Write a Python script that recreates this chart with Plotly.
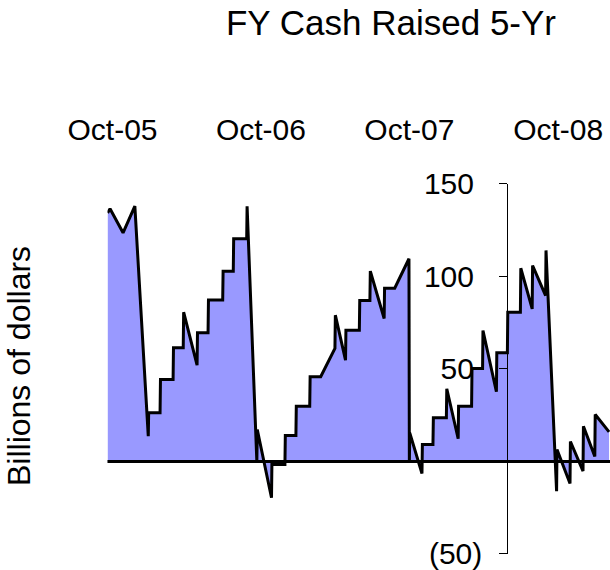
import plotly.graph_objects as go

# Data
dates = [
    "2005-09-19", "2005-09-25", "2005-10-27", "2005-11-25", "2005-12-28", "2005-12-29",
    "2006-01-26", "2006-01-27", "2006-02-27", "2006-02-28", "2006-03-24", "2006-03-25",
    "2006-04-27", "2006-04-28", "2006-05-24", "2006-05-25", "2006-06-29", "2006-06-30",
    "2006-07-25", "2006-07-26", "2006-08-27", "2006-08-28", "2006-09-21", "2006-09-22",
    "2006-10-27", "2006-10-28", "2006-11-29", "2006-11-30", "2006-12-26", "2006-12-27",
    "2007-01-29", "2007-01-30", "2007-02-25", "2007-04-01", "2007-04-02", "2007-04-27",
    "2007-04-28", "2007-05-31", "2007-06-01", "2007-06-26", "2007-06-27", "2007-07-31",
    "2007-08-01", "2007-08-26", "2007-09-30", "2007-10-01", "2007-10-02", "2007-11-01",
    "2007-11-02", "2007-11-28", "2007-11-29", "2007-12-31", "2008-01-01", "2008-01-29",
    "2008-01-30", "2008-03-02", "2008-03-03", "2008-03-29", "2008-03-30", "2008-05-02",
    "2008-05-03", "2008-05-29", "2008-05-30", "2008-06-30", "2008-07-01", "2008-07-29",
    "2008-07-30", "2008-08-31", "2008-09-01", "2008-09-27", "2008-09-28", "2008-10-30",
    "2008-10-31", "2008-12-01", "2008-12-02", "2008-12-30", "2008-12-31", "2009-02-03",
]
cash_raised = [
    134.4, 136.6, 123.6, 138.0, 13.7, 26.3,
    26.3, 44.3, 44.3, 61.5, 61.5, 80.7,
    52.1, 69.6, 69.6, 87.3, 87.3, 102.9,
    102.9, 120.4, 120.4, 138.0, 0.0, 17.3,
    -19.6, -1.6, -1.6, 14.1, 14.1, 29.9,
    29.9, 45.8, 45.8, 61.1, 79.1, 54.8,
    71.0, 71.0, 87.0, 87.0, 102.9, 77.3,
    93.7, 93.7, 109.6, 0.0, 15.5, -6.5,
    9.2, 9.2, 23.6, 23.6, 39.3, 12.3,
    29.9, 29.9, 50.3, 50.3, 70.8, 37.7,
    58.8, 58.8, 80.7, 80.7, 104.5, 82.5,
    105.9, 89.7, 114.1, -16.1, 6.5, -11.9,
    10.8, -5.2, 19.1, 2.7, 25.4, 16.0,
]

x_tick_dates = ["2005-10-01", "2006-10-01", "2007-10-01", "2008-10-01"]
y_tick_vals = [150, 100, 50, -50]
# accounting-style labels: positives padded where ")" sits on negatives
y_tick_text = ["150\u2008", "100\u2008", "50\u2008", "(50)"]

FONT = "Liberation Sans, Arial, sans-serif"

fig = go.Figure()
fig.add_trace(go.Scatter(
    x=dates, y=cash_raised, mode="lines",
    line=dict(color="black", width=3),
    fill="tozeroy", fillcolor="#9999FF",
    hoverinfo="skip",
))

fig.update_layout(
    width=610, height=570,
    margin=dict(l=0, r=0, t=0, b=0, autoexpand=False),
    paper_bgcolor="white", plot_bgcolor="white",
    showlegend=False,
    font=dict(family=FONT, color="black"),
    title=dict(
        text="FY Cash Raised 5-Yr",
        x=391 / 610, xanchor="center", xref="paper",
        y=0.981, yanchor="top", yref="container",
        font=dict(size=35, family=FONT, color="black"),
        automargin=False,
    ),
    xaxis=dict(
        domain=[0.1762, 1.0],
        range=["2005-09-18 17:00", "2009-02-05 08:00"],
        side="top",
        tickvals=x_tick_dates,
        tickformat="%b-%y",
        ticks="",
        showgrid=False, zeroline=False, showline=False,
        tickfont=dict(size=30, family=FONT, color="black"),
        ticklabelstandoff=37,
        ticklabeloverflow="allow",
        automargin=False,
    ),
    yaxis=dict(
        domain=[0.0281, 0.6772],
        range=[-50, 150],
        anchor="free", position=507.3 / 610, side="left",
        showline=True, linecolor="black", linewidth=1,
        ticks="outside", ticklen=8, tickcolor="black", tickwidth=1,
        tickvals=y_tick_vals, ticktext=y_tick_text,
        tickfont=dict(size=30, family=FONT, color="black"),
        ticklabelstandoff=11,
        ticklabeloverflow="allow",
        showgrid=False, zeroline=False,
        automargin=False,
    ),
    shapes=[dict(
        type="line", xref="x domain", x0=0, x1=1, yref="y", y0=0, y1=0,
        line=dict(color="black", width=3), layer="above",
    )],
    annotations=[dict(
        text="Billions of dollars", textangle=-90,
        xref="paper", yref="paper", x=19 / 610, y=(570 - 366) / 570,
        xanchor="center", yanchor="middle", showarrow=False,
        font=dict(size=32, family=FONT, color="black"),
    )],
)

fig.write_html(
    "out.html",
    config={"displayModeBar": False, "staticPlot": True},
    post_script="document.body.style.margin='0';document.body.style.padding='0';",
)
